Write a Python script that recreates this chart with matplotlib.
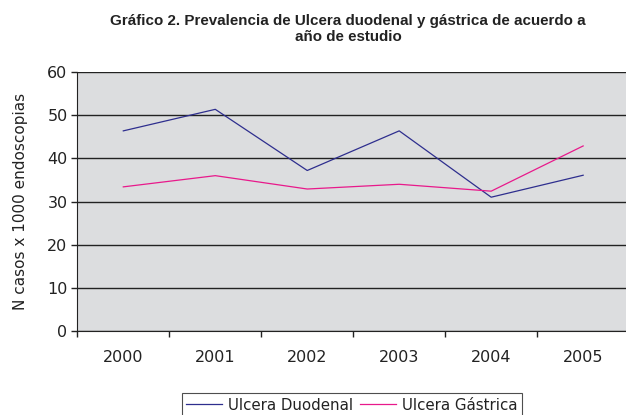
import matplotlib
matplotlib.use("Agg")
import matplotlib.pyplot as plt
import numpy as np

years = ["2000", "2001", "2002", "2003", "2004", "2005"]
duodenal = [46.4, 51.4, 37.2, 46.4, 31.0, 36.1]
gastrica = [33.4, 36.0, 32.9, 34.0, 32.4, 42.9]
y_ticks = [0, 10, 20, 30, 40, 50, 60]

TITLE = "Gráfico 2. Prevalencia de Ulcera duodenal y gástrica de acuerdo a\naño de estudio"
YLABEL = "N casos x 1000 endoscopias"


def main():
    fig = plt.figure(figsize=(6.26, 4.15), dpi=100)
    ax = fig.add_axes([0.1235, 0.2031, 0.8815, 0.6227])
    ax.set_facecolor("#DCDDDF")

    x = np.arange(len(years))
    ax.plot(x, duodenal, color="#2E2E8E", linewidth=0.9, label="Ulcera Duodenal")
    ax.plot(x, gastrica, color="#E8198B", linewidth=0.9, label="Ulcera Gástrica")

    ax.set_xlim(-0.5, len(years) - 0.5)
    ax.set_ylim(0, 60)
    ax.set_yticks(y_ticks)
    ax.yaxis.grid(True, color="#222222", linewidth=1.0)
    ax.set_axisbelow(True)

    # ticks at category boundaries, labels centred
    ax.set_xticks(np.arange(-0.5, len(years), 1.0))
    ax.set_xticklabels([])
    ax.set_xticks(x, minor=True)
    ax.set_xticklabels(years, minor=True)
    ax.tick_params(axis="x", which="major", length=4, width=1, color="#222222")
    ax.tick_params(axis="x", which="minor", length=0, pad=14, labelsize=11.5, labelcolor="#222222")
    ax.tick_params(axis="y", length=4, width=1, color="#222222", pad=3, labelsize=11.5, labelcolor="#222222")

    for s in ["top", "right"]:
        ax.spines[s].set_visible(False)
    ax.spines["left"].set_color("#222222")
    ax.spines["bottom"].set_color("#222222")

    ax.set_ylabel(YLABEL, fontsize=11, color="#222222", labelpad=14)

    fig.text(0.556, 0.930, TITLE, ha="center", va="center", fontsize=10.9,
             fontweight="bold", family="Liberation Sans", color="#222222",
             linespacing=1.2, multialignment="center")

    leg = fig.legend(loc="upper center", bbox_to_anchor=(0.562, 0.053), ncol=2,
                     frameon=True, fancybox=False, fontsize=10.8, handlelength=2.4,
                     columnspacing=0.5, handletextpad=0.35, borderpad=0.3,
                     borderaxespad=0)
    leg.get_frame().set_edgecolor("#222222")
    leg.get_frame().set_linewidth(0.8)
    for t in leg.get_texts():
        t.set_color("#222222")

    fig.savefig("out.png", dpi=100)
    plt.close(fig)


if __name__ == "__main__":
    main()
